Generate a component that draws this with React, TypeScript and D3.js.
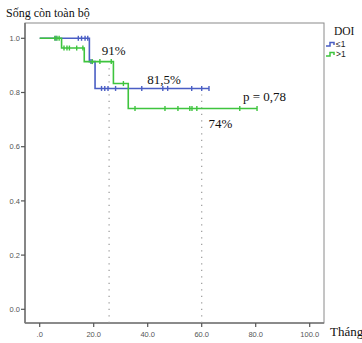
import React from "react";
import * as d3 from "d3";

// Kaplan–Meier overall survival by DOI group
const groupLabels = ["≤1", ">1"];
const groupColors = ["#4a5ec4", "#3ec43e"];

// Step times (months) and survival level reached at each time
const lowTimes = [0, 18.4, 20.5];
const lowSurv = [1.0, 0.914, 0.815];
const lowEnd = 62.7;
const lowCensor = [6.0, 14.3, 15.5, 16.8, 17.8, 19.0, 22.9, 24.1, 25.3, 28.1, 37.8, 45.6, 47.4, 56.3, 60.0, 62.7];

const highTimes = [0, 8.1, 16.5, 27.3, 32.8];
const highSurv = [1.0, 0.964, 0.914, 0.833, 0.741];
const highEnd = 80.5;
const highCensor = [5.6, 6.4, 7.2, 9.0, 10.1, 11.0, 13.7, 16.0, 19.5, 22.3, 26.5, 31.0, 35.3, 46.4, 51.2, 55.6, 56.4, 58.2, 74.1, 80.5];

const xTicks = [0, 20, 40, 60, 80, 100];
const yTicks = [0, 0.2, 0.4, 0.6, 0.8, 1.0];

// Reference lines: time and survival height reached
const refTimes = [25.7, 60];
const refSurv = [0.914, 0.8];

const annotations = [
  { text: "91%", t: 23, s: 0.94 },
  { text: "81,5%", t: 39.8, s: 0.83 },
  { text: "74%", t: 62.5, s: 0.67 },
  { text: "p = 0,78", t: 75.3, s: 0.77 },
];

const W = 362;
const H = 343;
const frame = { left: 25, top: 23, right: 324, bottom: 323 };

export default function App() {
  const x = d3.scaleLinear().domain([0, 100]).range([39.7, 309.7]);
  const y = d3.scaleLinear().domain([0, 1]).range([309.3, 38.3]);

  const stepLine = d3
    .line<[number, number]>()
    .x((d) => x(d[0]))
    .y((d) => y(d[1]))
    .curve(d3.curveStepAfter);

  const buildPts = (times: number[], surv: number[], end: number): [number, number][] => {
    const pts: [number, number][] = times.map((t, i) => [t, surv[i]]);
    pts.push([end, surv[surv.length - 1]]);
    return pts;
  };

  const survAt = (times: number[], surv: number[], t: number) => {
    let s = surv[0];
    for (let i = 0; i < times.length; i++) if (times[i] <= t) s = surv[i];
    return s;
  };

  const groups = [
    { times: lowTimes, surv: lowSurv, end: lowEnd, censor: lowCensor, color: groupColors[0] },
    { times: highTimes, surv: highSurv, end: highEnd, censor: highCensor, color: groupColors[1] },
  ];

  const serif = "'Liberation Serif', 'Times New Roman', serif";
  const sans = "'Liberation Sans', Arial, sans-serif";

  return (
    <svg width={W} height={H} style={{ position: "absolute", left: 0, top: 0, background: "#fff" }}>
      <rect x={0} y={0} width={W} height={H} fill="#fff" />
      <text x={6} y={17} fontFamily={serif} fontSize={12} fill="#111">
        Sống còn toàn bộ
      </text>

      {/* frame */}
      <rect
        x={frame.left}
        y={frame.top}
        width={frame.right - frame.left}
        height={frame.bottom - frame.top}
        fill="none"
        stroke="#8a8a8a"
        strokeWidth={1}
      />
      <line x1={frame.left} x2={frame.left} y1={frame.top} y2={frame.bottom} stroke="#777" strokeWidth={1.6} />
      <line x1={frame.left} x2={frame.right} y1={frame.bottom} y2={frame.bottom} stroke="#777" strokeWidth={1.6} />

      {/* y axis */}
      {yTicks.map((v) => (
        <g key={"y" + v}>
          <line x1={frame.left - 4} x2={frame.left} y1={y(v)} y2={y(v)} stroke="#555" strokeWidth={1.2} />
          <text x={frame.left - 5} y={y(v)} dy="0.35em" textAnchor="end" fontFamily={sans} fontSize={7.5} fill="#555">
            {d3.format(".1f")(v)}
          </text>
        </g>
      ))}

      {/* x axis */}
      {xTicks.map((v) => (
        <g key={"x" + v}>
          <line x1={x(v)} x2={x(v)} y1={frame.bottom} y2={frame.bottom + 4} stroke="#555" strokeWidth={1.2} />
          <text x={x(v)} y={337} textAnchor="middle" fontFamily={sans} fontSize={7.5} fill="#555">
            {v === 0 ? ".0" : d3.format(".1f")(v)}
          </text>
        </g>
      ))}
      <text x={330} y={336} fontFamily={serif} fontSize={13} fill="#111">
        Tháng
      </text>

      {/* dotted reference lines */}
      {refTimes.map((t, i) => (
        <line
          key={"ref" + i}
          x1={x(t)}
          x2={x(t)}
          y1={frame.bottom}
          y2={y(refSurv[i]) + 2}
          stroke="#999"
          strokeWidth={1.2}
          strokeDasharray="1.2 5.3"
        />
      ))}

      {/* survival curves */}
      {groups.map((g, gi) => (
        <g key={"g" + gi}>
          <path d={stepLine(buildPts(g.times, g.surv, g.end)) || ""} fill="none" stroke={g.color} strokeWidth={1.6} />
          {g.censor.map((t, ci) => {
            const s = survAt(g.times, g.surv, t);
            return (
              <line
                key={ci}
                x1={x(t)}
                x2={x(t)}
                y1={y(s) - 2.5}
                y2={y(s) + 2.5}
                stroke={g.color}
                strokeWidth={1.4}
              />
            );
          })}
        </g>
      ))}

      {/* annotations */}
      {annotations.map((a, i) => (
        <text key={"a" + i} x={x(a.t)} y={y(a.s)} fontFamily={serif} fontSize={13} fill="#111">
          {a.text}
        </text>
      ))}

      {/* legend */}
      <text x={334} y={35} fontFamily={serif} fontSize={11.5} fill="#111">
        DOI
      </text>
      {groupLabels.map((lab, i) => {
        const ly = 46 + i * 10;
        return (
          <g key={"l" + i}>
            <path
              d={`M326,${ly} H330 V${ly - 3.5} H334 V${ly - 1}`}
              fill="none"
              stroke={groupColors[i]}
              strokeWidth={1.5}
            />
            <text x={336} y={ly + 1} fontFamily={sans} fontSize={8.5} fill="#222">
              {lab}
            </text>
          </g>
        );
      })}
    </svg>
  );
}
